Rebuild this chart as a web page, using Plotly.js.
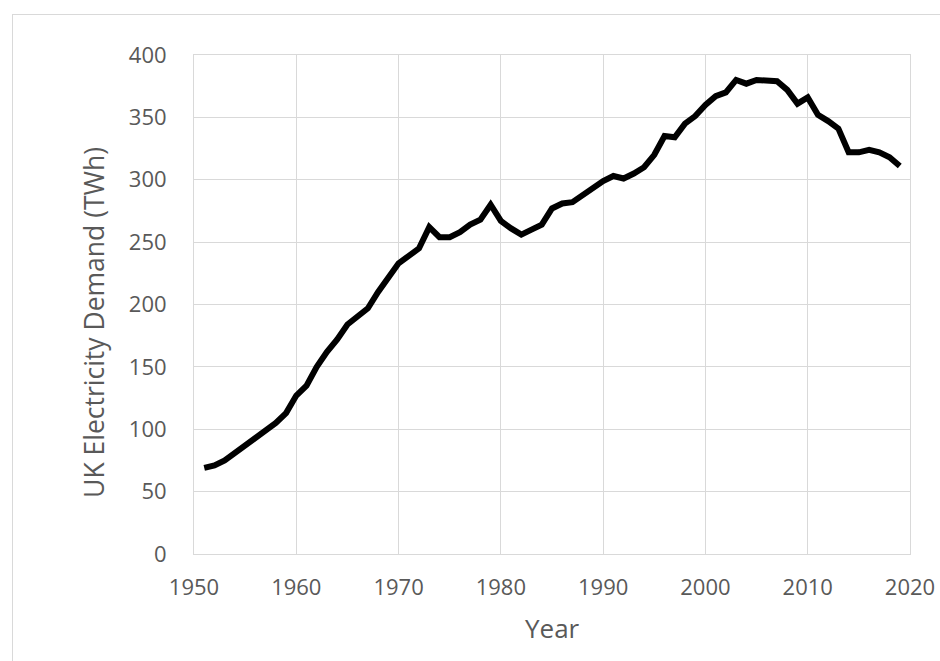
<!DOCTYPE html>
<html>
<head>
<meta charset="utf-8">
<script src="https://cdn.plot.ly/plotly-3.0.1.min.js"></script>
<style>
  html, body { margin: 0; padding: 0; background: #ffffff; overflow: hidden; }
  #chart { position: absolute; left: 0; top: 0; width: 940px; height: 661px; }
  #frame { position: absolute; left: 12px; top: 14px; width: 1000px; height: 800px;
           border: 1px solid #d9d9d9; pointer-events: none; }
</style>
</head>
<body>
<div id="chart"></div>
<div id="frame"></div>
<script>
const years = [
  1951, 1952, 1953, 1954, 1955, 1956, 1957, 1958, 1959, 1960,
  1961, 1962, 1963, 1964, 1965, 1966, 1967, 1968, 1969, 1970,
  1971, 1972, 1973, 1974, 1975, 1976, 1977, 1978, 1979, 1980,
  1981, 1982, 1983, 1984, 1985, 1986, 1987, 1988, 1989, 1990,
  1991, 1992, 1993, 1994, 1995, 1996, 1997, 1998, 1999, 2000,
  2001, 2002, 2003, 2004, 2005, 2006, 2007, 2008, 2009, 2010,
  2011, 2012, 2013, 2014, 2015, 2016, 2017, 2018, 2019
];
const demandTWh = [
  69, 71, 75, 81, 88, 94, 99, 105, 113, 127,
  135, 150, 162, 172, 184, 191, 197, 210, 222, 233,
  239, 245, 262, 254, 254, 258, 264, 268, 280, 267,
  261, 256, 260, 264, 277, 281, 282, 288, 294, 299,
  303, 301, 305, 310, 320, 335, 334, 345, 351, 360,
  367, 370, 380, 377, 380, 379, 379, 372, 361, 366,
  352, 347, 341, 322, 322, 324, 322, 318, 311
];
const xTickVals = [1950, 1960, 1970, 1980, 1990, 2000, 2010, 2020];
const yTickVals = [0, 50, 100, 150, 200, 250, 300, 350, 400];
const xTitle = 'Year';
const yTitle = 'UK Electricity Demand (TWh)';

const font = "'Open Sans', 'Liberation Sans', sans-serif";
const grey = '#d9d9d9';
const textGrey = '#595959';

const trace = {
  x: years,
  y: demandTWh,
  type: 'scatter',
  mode: 'lines',
  line: { color: '#000000', width: 6, shape: 'linear' },
  hoverinfo: 'x+y'
};

const axisCommon = {
  tickmode: 'array',
  showgrid: true,
  gridcolor: grey,
  gridwidth: 1,
  showline: true,
  mirror: true,
  linecolor: grey,
  linewidth: 1,
  zeroline: false,
  ticks: 'outside',
  tickcolor: 'rgba(0,0,0,0)',
  tickfont: { family: font, size: 22, color: textGrey }
};

const layout = {
  width: 940,
  height: 661,
  margin: { l: 194, r: 30, t: 55, b: 107, pad: 0 },
  paper_bgcolor: 'rgba(0,0,0,0)',
  plot_bgcolor: '#ffffff',
  showlegend: false,
  font: { family: font, color: textGrey, size: 22 },
  xaxis: Object.assign({}, axisCommon, {
    range: [1950, 2020],
    tickvals: xTickVals,
    ticktext: xTickVals.map(String),
    ticklen: 14
  }),
  yaxis: Object.assign({}, axisCommon, {
    range: [0, 400],
    tickvals: yTickVals,
    ticktext: yTickVals.map(String),
    ticklen: 22
  }),
  annotations: [
    {
      text: xTitle, xref: 'paper', yref: 'paper',
      x: 0.5, y: -0.1483, xanchor: 'center', yanchor: 'middle',
      showarrow: false, font: { family: font, size: 26, color: textGrey }
    },
    {
      text: yTitle, xref: 'paper', yref: 'paper', textangle: -90,
      x: -0.1397, y: 0.465, xanchor: 'center', yanchor: 'middle',
      showarrow: false, font: { family: font, size: 26.5, color: textGrey }
    }
  ]
};

Plotly.newPlot('chart', [trace], layout, { displayModeBar: false, staticPlot: true });
</script>
</body>
</html>
